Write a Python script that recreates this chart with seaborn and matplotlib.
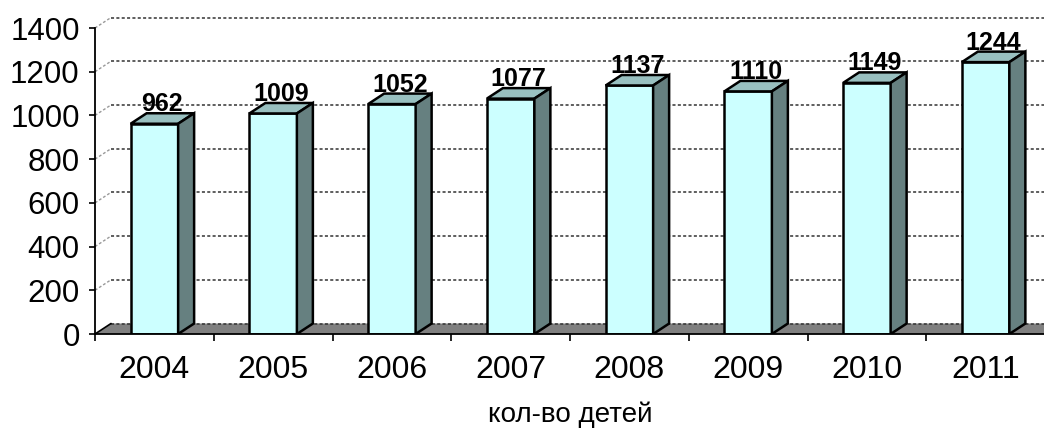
import numpy as np
import pandas as pd
import seaborn as sns
import matplotlib.pyplot as plt
from matplotlib.patches import Polygon

# values
years = ["2004", "2005", "2006", "2007", "2008", "2009", "2010", "2011"]
children = [962, 1009, 1052, 1077, 1137, 1110, 1149, 1244]
y_ticks = [0, 200, 400, 600, 800, 1000, 1200, 1400]
x_title = "кол-во детей"

df = pd.DataFrame({"year": years, "count": children})

sns.set_style("white")
plt.rcParams["font.family"] = ["Liberation Sans", "DejaVu Sans"]
plt.rcParams["text.color"] = "black"
plt.rcParams["axes.labelcolor"] = "black"
plt.rcParams["xtick.color"] = "black"
plt.rcParams["ytick.color"] = "black"

# colours of the excel-like 3d bars
FRONT = "#CCFFFF"
TOP = "#99C0C0"
SIDE = "#668080"
FLOOR = "#808080"

fig = plt.figure(figsize=(10.44, 4.30), dpi=100)
# y=0 at 334px, 1400 at 28px; x axis starts at 95px
ax = fig.add_axes([95 / 1044, 96 / 430, 950 / 1044, 319.1 / 430])

sns.barplot(data=df, x="year", y="count", color=FRONT, width=0.4,
            edgecolor="black", linewidth=1.8, saturation=1, ax=ax, zorder=3)

xmin, xmax = -0.5, 7.5
ax.set_xlim(xmin, xmax)
ax.set_ylim(0, 1460)

# depth of the 3d effect in data units
dx = 16 / 118.75
dy = 48

# floor
floor = Polygon([(xmin, 0), (xmin + dx, dy), (xmax + 1, dy), (xmax + 1, 0)],
                closed=True, facecolor=FLOOR, edgecolor="none", zorder=0.5)
ax.add_patch(floor)
ax.plot([xmin, xmin + dx], [0, dy], color="black", lw=1.2, zorder=1.5)

# back wall grid lines
for v in y_ticks:
    ax.plot([xmin + dx, xmax + 1], [v + dy, v + dy], color="#333333", lw=1.1,
            dashes=(2, 1.5), zorder=1)
    if v > 0:
        ax.plot([xmin, xmin + dx], [v, v + dy], color="#999999", lw=1.0,
                dashes=(2, 1.5), zorder=1)

# top and side faces, built from the bars seaborn drew
for bar, val in zip(ax.patches[:len(children)], children):
    x0 = bar.get_x()
    w = bar.get_width()
    h = bar.get_height()
    top = Polygon([(x0, h), (x0 + dx, h + dy), (x0 + w + dx, h + dy), (x0 + w, h)],
                  closed=True, facecolor=TOP, edgecolor="black", lw=1.8, zorder=3)
    side = Polygon([(x0 + w, 0), (x0 + w, h), (x0 + w + dx, h + dy), (x0 + w + dx, dy)],
                   closed=True, facecolor=SIDE, edgecolor="black", lw=1.8, zorder=3)
    ax.add_patch(top)
    ax.add_patch(side)
    ax.text(x0 + w / 2 + dx / 2, h + dy + 9, f"{val}", ha="center", va="baseline",
            fontsize=18, fontweight="bold", zorder=5)

# axes styling
for s in ["top", "right"]:
    ax.spines[s].set_visible(False)
ax.spines["left"].set_bounds(0, 1400)
for s in ["left", "bottom"]:
    ax.spines[s].set_linewidth(1.3)
    ax.spines[s].set_color("black")
    ax.spines[s].set_zorder(4)

ax.set_yticks(y_ticks)
ax.set_yticklabels([str(t) for t in y_ticks], fontsize=22.5)
ax.tick_params(axis="y", direction="out", length=4, width=1.2, pad=7, left=True)

ax.set_xticks(np.arange(len(years)))
ax.set_xticklabels(years, fontsize=23)
ax.set_xticks(np.arange(len(years) + 1) - 0.5, minor=True)
ax.tick_params(axis="x", which="major", length=0, pad=15)
ax.tick_params(axis="x", which="minor", direction="out", length=5, width=1.2, bottom=True)

ax.set_ylabel("")
ax.set_xlabel(x_title, fontsize=20)
ax.xaxis.set_label_coords(0.5, -0.212)

fig.savefig("out.png", dpi=100)
